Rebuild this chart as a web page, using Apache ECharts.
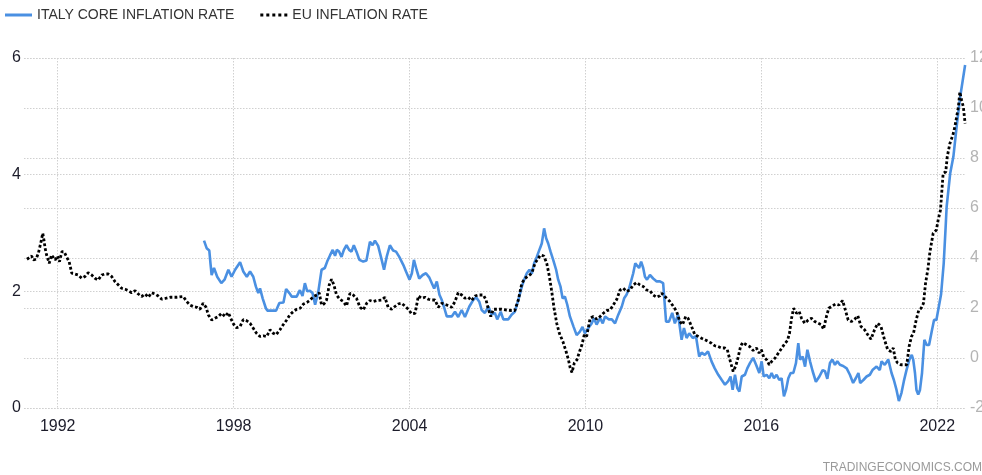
<!DOCTYPE html>
<html>
<head>
<meta charset="utf-8">
<script src="https://cdn.jsdelivr.net/npm/echarts@6/dist/echarts.min.js"></script>
<style>
html,body{margin:0;padding:0;background:#fff;}
#chart{width:982px;height:475px;}
</style>
</head>
<body>
<div id="chart"></div>
<script>
const yearTicks = [1992, 1998, 2004, 2010, 2016, 2022];
const leftTicks = [0, 2, 4, 6];
const rightTicks = [-2, 0, 2, 4, 6, 8, 10, 12];

const itDates = [1996.99,1997.08,1997.17,1997.21,1997.25,1997.33,1997.44,1997.58,1997.69,1997.82,1997.93,1998.05,1998.22,1998.33,1998.45,1998.56,1998.67,1998.76,1998.84,1998.90,1998.99,1999.10,1999.15,1999.30,1999.45,1999.56,1999.70,1999.79,1999.90,1999.98,2000.15,2000.26,2000.35,2000.43,2000.51,2000.60,2000.69,2000.78,2000.89,2001.00,2001.11,2001.19,2001.29,2001.38,2001.46,2001.52,2001.60,2001.68,2001.76,2001.85,2001.94,2002.02,2002.10,2002.19,2002.29,2002.42,2002.53,2002.65,2002.74,2002.82,2002.93,2003.05,2003.13,2003.22,2003.33,2003.44,2003.54,2003.65,2003.79,2003.88,2004.00,2004.08,2004.15,2004.24,2004.33,2004.45,2004.56,2004.67,2004.76,2004.84,2004.93,2005.02,2005.10,2005.17,2005.27,2005.44,2005.55,2005.66,2005.78,2005.89,2006.04,2006.17,2006.27,2006.38,2006.46,2006.57,2006.69,2006.80,2006.91,2006.99,2007.11,2007.20,2007.37,2007.48,2007.59,2007.71,2007.83,2007.91,2008.00,2008.09,2008.17,2008.25,2008.34,2008.45,2008.51,2008.59,2008.66,2008.73,2008.81,2008.90,2009.00,2009.07,2009.15,2009.22,2009.30,2009.38,2009.47,2009.59,2009.70,2009.81,2009.90,2009.98,2010.10,2010.21,2010.29,2010.38,2010.50,2010.59,2010.67,2010.79,2010.90,2011.01,2011.12,2011.24,2011.32,2011.40,2011.49,2011.63,2011.70,2011.75,2011.83,2011.90,2011.97,2012.03,2012.10,2012.20,2012.31,2012.43,2012.54,2012.65,2012.75,2012.85,2012.96,2013.05,2013.16,2013.28,2013.36,2013.45,2013.54,2013.66,2013.77,2013.88,2013.96,2014.07,2014.18,2014.30,2014.41,2014.53,2014.65,2014.76,2014.87,2014.95,2015.02,2015.10,2015.18,2015.25,2015.33,2015.44,2015.52,2015.61,2015.72,2015.82,2015.93,2016.01,2016.08,2016.18,2016.27,2016.35,2016.43,2016.52,2016.61,2016.69,2016.77,2016.84,2016.92,2017.00,2017.09,2017.18,2017.26,2017.32,2017.41,2017.49,2017.57,2017.66,2017.75,2017.86,2017.98,2018.09,2018.17,2018.25,2018.34,2018.42,2018.51,2018.59,2018.68,2018.79,2018.91,2019.02,2019.13,2019.22,2019.31,2019.37,2019.48,2019.59,2019.70,2019.79,2019.93,2020.04,2020.10,2020.21,2020.33,2020.44,2020.52,2020.61,2020.69,2020.78,2020.86,2020.95,2021.05,2021.13,2021.18,2021.24,2021.29,2021.35,2021.41,2021.48,2021.56,2021.64,2021.72,2021.81,2021.89,2021.97,2022.04,2022.13,2022.22,2022.28,2022.32,2022.44,2022.55,2022.66,2022.78,2022.95];
const itValues = [2.87,2.74,2.70,2.48,2.28,2.40,2.25,2.14,2.20,2.37,2.25,2.37,2.50,2.34,2.25,2.34,2.25,2.08,1.97,2.05,1.88,1.71,1.67,1.67,1.67,1.80,1.81,2.04,1.97,1.91,1.91,2.02,1.92,2.14,2.00,2.01,1.97,1.77,2.00,2.37,2.40,2.51,2.62,2.71,2.61,2.71,2.68,2.59,2.71,2.79,2.71,2.68,2.79,2.68,2.54,2.51,2.53,2.85,2.79,2.87,2.78,2.54,2.37,2.59,2.79,2.70,2.68,2.59,2.45,2.34,2.20,2.31,2.54,2.37,2.22,2.28,2.31,2.24,2.14,2.05,2.17,1.94,1.85,1.74,1.57,1.57,1.65,1.56,1.68,1.56,1.74,1.85,1.90,1.82,1.68,1.63,1.74,1.60,1.63,1.52,1.65,1.52,1.52,1.60,1.65,1.85,2.08,2.20,2.31,2.37,2.30,2.48,2.59,2.74,2.82,3.08,2.91,2.82,2.68,2.54,2.37,2.20,2.08,1.88,1.91,1.77,1.57,1.40,1.25,1.31,1.39,1.28,1.37,1.45,1.54,1.43,1.54,1.45,1.57,1.52,1.52,1.45,1.60,1.74,1.88,1.94,2.05,2.31,2.48,2.51,2.40,2.51,2.40,2.25,2.20,2.28,2.22,2.17,2.17,2.14,1.48,1.48,1.63,1.45,1.60,1.17,1.37,1.20,1.28,1.20,1.23,0.88,0.95,0.91,0.97,0.80,0.68,0.57,0.48,0.40,0.46,0.54,0.31,0.57,0.34,0.28,0.54,0.57,0.68,0.77,0.86,0.74,0.60,0.80,0.54,0.57,0.51,0.60,0.51,0.57,0.48,0.51,0.20,0.31,0.51,0.60,0.60,0.77,1.11,0.83,0.88,0.71,1.00,0.80,0.63,0.45,0.54,0.65,0.63,0.50,0.77,0.83,0.74,0.80,0.74,0.72,0.68,0.57,0.43,0.51,0.60,0.43,0.48,0.54,0.57,0.65,0.71,0.65,0.80,0.74,0.83,0.60,0.48,0.31,0.12,0.26,0.46,0.65,0.83,0.91,0.83,0.60,0.31,0.23,0.31,0.60,1.17,1.08,1.08,1.31,1.51,1.51,1.70,1.95,2.48,3.05,3.45,4.02,4.31,4.82,5.33,5.88];

const euDates = [1990.95,1991.11,1991.17,1991.26,1991.34,1991.42,1991.49,1991.53,1991.57,1991.62,1991.71,1991.79,1991.85,1991.91,1991.99,1992.06,1992.14,1992.22,1992.30,1992.39,1992.48,1992.59,1992.70,1992.82,1992.93,1993.04,1993.16,1993.27,1993.38,1993.50,1993.61,1993.72,1993.84,1993.95,1994.07,1994.18,1994.30,1994.41,1994.52,1994.64,1994.75,1994.86,1994.98,1995.09,1995.20,1995.32,1995.43,1995.55,1995.66,1995.83,1996.06,1996.28,1996.40,1996.51,1996.62,1996.74,1996.85,1996.96,1997.06,1997.14,1997.25,1997.36,1997.48,1997.59,1997.71,1997.82,1997.90,1998.00,1998.10,1998.22,1998.33,1998.45,1998.56,1998.67,1998.78,1998.90,1999.01,1999.13,1999.24,1999.35,1999.45,1999.58,1999.69,1999.81,1999.92,2000.04,2000.15,2000.27,2000.38,2000.50,2000.61,2000.72,2000.84,2000.92,2001.00,2001.08,2001.17,2001.26,2001.34,2001.42,2001.51,2001.62,2001.74,2001.85,2001.97,2002.08,2002.19,2002.31,2002.42,2002.54,2002.65,2002.76,2002.88,2003.05,2003.16,2003.27,2003.39,2003.50,2003.61,2003.73,2003.84,2003.96,2004.07,2004.19,2004.30,2004.41,2004.53,2004.64,2004.75,2004.87,2004.98,2005.10,2005.27,2005.44,2005.55,2005.66,2005.78,2005.89,2006.00,2006.12,2006.23,2006.34,2006.52,2006.61,2006.69,2006.77,2006.86,2006.97,2007.14,2007.31,2007.48,2007.59,2007.71,2007.83,2007.94,2008.05,2008.17,2008.28,2008.39,2008.47,2008.58,2008.68,2008.77,2008.85,2008.93,2009.02,2009.11,2009.23,2009.34,2009.42,2009.48,2009.54,2009.62,2009.71,2009.80,2009.88,2009.96,2010.04,2010.16,2010.27,2010.39,2010.50,2010.61,2010.73,2010.84,2010.95,2011.07,2011.18,2011.29,2011.40,2011.52,2011.63,2011.75,2011.86,2011.97,2012.09,2012.20,2012.31,2012.43,2012.54,2012.60,2012.77,2012.88,2013.00,2013.11,2013.22,2013.31,2013.42,2013.50,2013.62,2013.73,2013.85,2013.96,2014.07,2014.19,2014.30,2014.41,2014.52,2014.64,2014.75,2014.84,2014.91,2014.99,2015.04,2015.13,2015.20,2015.29,2015.36,2015.49,2015.60,2015.72,2015.83,2015.92,2016.00,2016.08,2016.18,2016.27,2016.35,2016.47,2016.58,2016.70,2016.81,2016.89,2016.96,2017.03,2017.10,2017.20,2017.29,2017.37,2017.48,2017.60,2017.71,2017.82,2017.94,2018.05,2018.12,2018.22,2018.30,2018.42,2018.53,2018.65,2018.77,2018.88,2018.96,2019.07,2019.18,2019.29,2019.40,2019.52,2019.63,2019.74,2019.86,2019.97,2020.08,2020.20,2020.31,2020.42,2020.50,2020.57,2020.65,2020.76,2020.87,2020.96,2021.04,2021.12,2021.19,2021.28,2021.37,2021.45,2021.53,2021.60,2021.68,2021.75,2021.86,2021.97,2022.03,2022.11,2022.15,2022.20,2022.29,2022.34,2022.43,2022.53,2022.60,2022.66,2022.72,2022.77,2022.83,2022.89,2022.95];
const euValues = [3.95,4.08,3.92,3.95,4.19,4.59,4.99,4.72,4.39,4.12,3.79,4.12,4.05,3.92,4.08,3.85,4.25,4.25,4.05,3.85,3.39,3.36,3.32,3.19,3.26,3.41,3.32,3.19,3.12,3.32,3.36,3.36,3.26,3.06,2.92,2.79,2.75,2.69,2.61,2.69,2.56,2.46,2.56,2.43,2.61,2.56,2.48,2.35,2.38,2.43,2.43,2.46,2.26,2.12,2.06,2.03,1.95,2.19,2.03,1.72,1.52,1.59,1.66,1.79,1.66,1.82,1.59,1.35,1.21,1.26,1.54,1.49,1.39,1.19,0.99,0.86,0.89,0.86,1.13,0.99,0.93,1.13,1.33,1.52,1.73,1.86,1.95,1.99,2.16,2.22,2.32,2.46,2.52,2.61,2.12,2.16,2.32,2.92,3.15,2.92,2.52,2.35,2.26,2.08,2.59,2.52,2.39,2.03,1.92,2.19,2.30,2.26,2.30,2.32,2.43,2.03,1.95,2.06,2.16,2.19,2.08,1.95,1.77,1.79,2.48,2.39,2.43,2.35,2.32,2.32,2.03,2.19,2.12,2.03,2.26,2.61,2.52,2.39,2.43,2.30,2.48,2.52,2.52,2.32,1.95,1.66,1.95,1.95,1.95,1.92,1.90,1.90,2.32,2.99,3.19,3.28,3.39,3.79,3.99,4.12,4.08,3.79,3.26,2.66,1.99,1.39,0.99,0.66,0.26,-0.07,-0.40,-0.58,-0.20,-0.07,0.26,0.53,0.93,0.86,1.59,1.66,1.55,1.66,1.79,1.90,1.92,2.12,2.35,2.72,2.79,2.66,2.72,2.92,3.02,2.92,2.86,2.72,2.69,2.52,2.43,2.49,2.59,2.39,2.26,2.06,1.86,1.46,1.33,1.66,1.59,1.26,0.93,0.86,0.79,0.73,0.66,0.59,0.49,0.46,0.40,0.40,0.33,0.00,-0.34,-0.54,-0.31,0.00,0.46,0.62,0.53,0.46,0.30,0.40,0.20,0.33,0.04,-0.07,-0.27,-0.14,0.00,0.20,0.40,0.59,0.70,0.99,1.59,1.99,1.79,1.86,1.59,1.39,1.52,1.59,1.46,1.39,1.33,1.15,1.66,1.99,2.08,2.16,2.12,2.30,1.86,1.52,1.46,1.55,1.69,1.26,1.13,0.93,0.75,1.13,1.39,1.26,0.73,0.33,0.26,0.40,-0.07,-0.20,-0.27,-0.27,-0.27,0.46,0.86,0.99,1.52,1.92,1.99,2.19,2.99,3.55,4.25,4.99,5.12,5.52,5.92,6.59,7.38,7.45,8.05,8.58,8.91,9.25,9.64,10.04,10.64,10.31,10.04,9.38];

const pairs = (xs, ys) => xs.map((x, i) => [x, ys[i]]);

const chart = echarts.init(document.getElementById('chart'), null, {renderer: 'canvas'});
const FONT = '"Liberation Sans", Arial, sans-serif';
const gridLine = {show: true, lineStyle: {color: '#d0d0d0', type: [1.5, 1.5], width: 1}};
const dotIcon = 'path://M0,0h3v3h-3z M6,0h3v3h-3z M12,0h3v3h-3z M18,0h3v3h-3z M24,0h3v3h-3z';

chart.setOption({
  animation: false,
  backgroundColor: '#ffffff',
  textStyle: {fontFamily: FONT},
  legend: {
    left: 0, top: 3,
    itemWidth: 27, itemHeight: 3, itemGap: 26,
    textStyle: {fontSize: 14, color: '#333', fontFamily: FONT},
    data: [
      {name: 'ITALY CORE INFLATION RATE', icon: 'rect'},
      {name: 'EU INFLATION RATE', icon: dotIcon}
    ]
  },
  grid: {left: 24, right: 16, top: 58, bottom: 67, containLabel: false, outerBoundsMode: 'none'},
  xAxis: {
    type: 'value',
    min: 1990.85, max: 2022.98,
    axisLine: {show: false},
    axisTick: {show: false, customValues: yearTicks},
    axisLabel: {customValues: yearTicks, formatter: v => String(v), fontSize: 16, color: '#1c1c2a', margin: 11, fontFamily: FONT},
    splitLine: gridLine
  },
  yAxis: [
    {
      type: 'value', position: 'left', min: 0, max: 6, interval: 2,
      axisLine: {show: false}, axisTick: {show: false},
      axisLabel: {fontSize: 16, color: '#1c1c2a', margin: 3, fontFamily: FONT},
      splitLine: gridLine
    },
    {
      type: 'value', position: 'right', min: -2, max: 12, interval: 2,
      axisLine: {show: false}, axisTick: {show: false},
      axisLabel: {fontSize: 16, color: '#b4b4b4', margin: 4, fontFamily: FONT},
      splitLine: gridLine
    }
  ],
  series: [
    {
      name: 'ITALY CORE INFLATION RATE', type: 'line', yAxisIndex: 0,
      showSymbol: false, symbol: 'none',
      data: pairs(itDates, itValues),
      lineStyle: {color: '#4a90e2', width: 2.6},
      itemStyle: {color: '#4a90e2'}
    },
    {
      name: 'EU INFLATION RATE', type: 'line', yAxisIndex: 1,
      showSymbol: false, symbol: 'none',
      data: pairs(euDates, euValues),
      lineStyle: {color: '#000000', width: 2.8, type: [2.8, 2.2]},
      itemStyle: {color: '#000000'}
    }
  ],
  graphic: [{
    type: 'text', right: 0, bottom: 1,
    style: {text: 'TRADINGECONOMICS.COM', fill: '#9a9a9a', font: '12px ' + FONT}
  }]
});
</script>
</body>
</html>
